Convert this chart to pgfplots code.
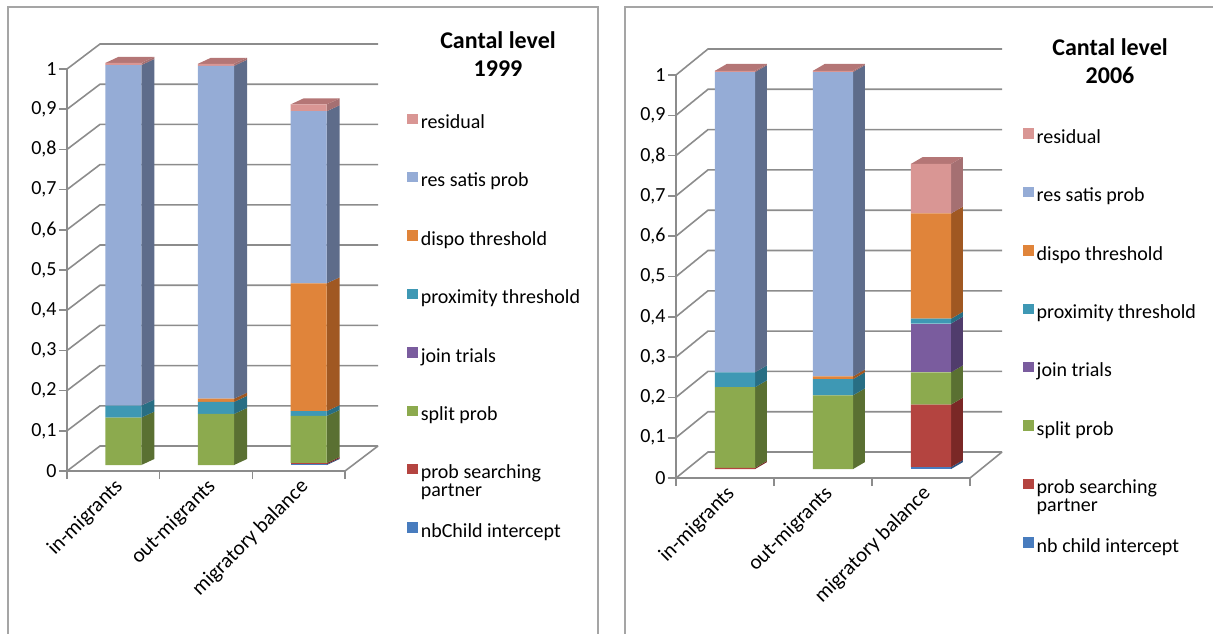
\documentclass[border=0pt]{standalone}
\usepackage{fontspec}
\setmainfont{Carlito}
\usepackage{pgfplots}
\usepackage{pgfplotstable}
\pgfplotsset{compat=1.18}

\definecolor{gridc}{RGB}{140,140,140}
\definecolor{framec}{RGB}{165,165,165}
% front face / side face colours
\definecolor{cResid}{RGB}{217,150,148}  \definecolor{cResidS}{RGB}{165,112,114} \definecolor{cResidT}{RGB}{180,118,118}
\definecolor{cSatis}{RGB}{149,172,214}  \definecolor{cSatisS}{RGB}{94,108,138}
\definecolor{cDispo}{RGB}{224,132,58}   \definecolor{cDispoS}{RGB}{160,88,34}
\definecolor{cProx}{RGB}{62,152,180}    \definecolor{cProxS}{RGB}{40,110,132}
\definecolor{cJoin}{RGB}{122,92,158}    \definecolor{cJoinS}{RGB}{80,60,108}
\definecolor{cSplit}{RGB}{140,170,78}   \definecolor{cSplitS}{RGB}{90,112,50}
\definecolor{cSearch}{RGB}{180,68,64}   \definecolor{cSearchS}{RGB}{122,40,38}
\definecolor{cChild}{RGB}{72,124,190}   \definecolor{cChildS}{RGB}{46,82,130}

% 1999: 0 in-migrants, 1 out-migrants, 2 migratory balance
\pgfplotstableread{
x nbchild psearch split join prox  dispo satis resid
0 0       0       0.118 0    0.030 0     0.847 0.005
1 0       0       0.127 0    0.030 0.008 0.828 0.005
2 0.002   0.003   0.117 0    0.012 0.318 0.428 0.017
}\dataA
% 2006
\pgfplotstableread{
x nbchild psearch split join  prox  dispo satis resid
0 0       0.003   0.200 0     0.037 0     0.745 0.003
1 0       0       0.183 0     0.040 0.007 0.755 0.003
2 0.005   0.155   0.080 0.121 0.012 0.261 0     0.123
}\dataB

% side and top faces of one bar: #1 table, #2 row, #3 half bar width, #4 depth x, #5 depth y
\newcommand\sidefaces[5]{%
  \gdef\cum{0}%
  \foreach \cname/\cclr in {nbchild/cChild,psearch/cSearch,split/cSplit,join/cJoin,
      prox/cProx,dispo/cDispo,satis/cSatis,resid/cResid}{%
    \pgfplotstablegetelem{#2}{\cname}\of#1%
    \ifdim\pgfplotsretval pt>0pt
      \pgfmathsetmacro\ya{\cum}%
      \pgfmathsetmacro\yb{\cum+\pgfplotsretval}%
      \pgfmathsetmacro\xa{#2+#3}%
      \pgfmathsetmacro\xb{#2+#3+#4}%
      \pgfmathsetmacro\yc{\ya+#5}%
      \pgfmathsetmacro\yd{\yb+#5}%
      \edef\facecmd{\noexpand\addplot[fill=\cclr S,draw=none]
        coordinates {(\xa,\ya) (\xb,\yc) (\xb,\yd) (\xa,\yb)};}\facecmd
      \xdef\cum{\yb}%
    \fi}%
  \pgfmathsetmacro\xa{#2-#3}\pgfmathsetmacro\xb{#2+#3}%
  \pgfmathsetmacro\xc{#2-#3+#4}\pgfmathsetmacro\xd{#2+#3+#4}%
  \pgfmathsetmacro\yd{\cum+#5}%
  \edef\facecmd{\noexpand\addplot[fill=cResidT,draw=none]
    coordinates {(\xa,\cum) (\xb,\cum) (\xd,\yd) (\xc,\yd)};}\facecmd
}

\pgfplotsset{
  sqlegend/.style={legend image code/.code={\fill[##1] (0pt,-0.3pt) rectangle (5.2pt,4.9pt);}},
  frontaxis/.style={anchor=south west, scale only axis,
    xmin=-0.5, xmax=2.5, ymin=0, ymax=1, clip=false,
    axis x line*=bottom, axis y line*=left,
    axis line style={gridc, line width=0.8pt},
    tick align=outside, tick style={gridc, line width=0.8pt},
    major tick length=0pt, minor tick length=4pt,
    ytick={0,0.1,...,1}, minor ytick={0,0.1,...,1},
    xtick={0,1,2}, minor xtick={-0.5,0.5,1.5,2.5},
    xticklabels={in-migrants,out-migrants,migratory balance},
    xticklabel style={rotate=45, anchor=north east, inner sep=2pt,
      font=\fontsize{10.5}{12}\selectfont},
    yticklabel style={inner sep=5pt},
    /pgf/number format/use comma, /pgf/number format/assume math mode=true,
    tick label style={font=\fontsize{10}{12}\selectfont, black},
  },
  sideaxis/.style={anchor=south west, scale only axis,
    xmin=-0.5, xmax=2.5, ymin=0, ymax=1, clip=false, hide axis, no marks},
  baraxis/.style={anchor=south west, scale only axis,
    xmin=-0.5, xmax=2.5, ymin=0, ymax=1, clip=false, hide axis,
    ybar stacked, reverse legend, legend cell align=left,
    legend style={draw=none, fill=none, anchor=north west, inner sep=0pt,
      row sep=16.2pt, font=\fontsize{10}{12}\selectfont,
      nodes={text height=7.5pt, text depth=2.5pt, inner sep=1.5pt}},
  },
}

\newcommand\twoline{\smash{\begin{tabular}[t]{@{}l@{}}prob searching\\[-3pt]partner\end{tabular}}}

\begin{document}
\begin{tikzpicture}
\useasboundingbox (0pt,0pt) rectangle (606.5pt,316.5pt);
\draw[framec, line width=0.8pt] (4pt,-5pt) -- (4pt,313pt) -- (299pt,313pt) -- (299pt,-5pt);
\draw[framec, line width=0.8pt] (312.5pt,-5pt) -- (312.5pt,313pt) -- (612pt,313pt);

% ---------- 1999 ----------
\begin{axis}[frontaxis, at={(33.5pt,81pt)}, width=139pt, height=201pt]
\pgfplotsinvokeforeach{0,0.1,0.2,0.3,0.4,0.5,0.6,0.7,0.8,0.9,1}{
  \draw[gridc, line width=0.8pt] (axis cs:-0.5,#1) -- ++(16.5pt,12.5pt)
    -- ([shift={(16.5pt,12.5pt)}]axis cs:2.5,#1);}
\draw[gridc, line width=0.8pt] (axis cs:2.5,0) -- ++(16.5pt,12.5pt);
\end{axis}

\begin{axis}[sideaxis, at={(38.5pt,84pt)}, width=139pt, height=201pt]
\sidefaces{\dataA}{0}{0.195}{0.14}{0.015}
\sidefaces{\dataA}{1}{0.195}{0.14}{0.015}
\sidefaces{\dataA}{2}{0.195}{0.14}{0.015}
\end{axis}

\begin{axis}[baraxis, at={(38.5pt,84pt)}, width=139pt, height=201pt, bar width=0.39,
  legend style={at={(1.187,0.883)}}]
\addplot[fill=cChild, draw=none, sqlegend]  table[x=x, y=nbchild] {\dataA};
\addplot[fill=cSearch, draw=none, sqlegend] table[x=x, y=psearch] {\dataA};
\addplot[fill=cSplit, draw=none, sqlegend]  table[x=x, y=split]   {\dataA};
\addplot[fill=cJoin, draw=none, sqlegend]   table[x=x, y=join]    {\dataA};
\addplot[fill=cProx, draw=none, sqlegend]   table[x=x, y=prox]    {\dataA};
\addplot[fill=cDispo, draw=none, sqlegend]  table[x=x, y=dispo]   {\dataA};
\addplot[fill=cSatis, draw=none, sqlegend]  table[x=x, y=satis]   {\dataA};
\addplot[fill=cResid, draw=none, sqlegend]  table[x=x, y=resid]   {\dataA};
\legend{nbChild intercept, \twoline, split prob, join trials,
  proximity threshold, dispo threshold, res satis prob, residual}
\end{axis}
\node[font=\bfseries\fontsize{12}{14}\selectfont, align=center] at (249pt,289.5pt) {Cantal level\\1999};

% ---------- 2006 ----------
\begin{axis}[frontaxis, at={(338pt,77.5pt)}, width=147pt, height=201.5pt]
\pgfplotsinvokeforeach{0,0.1,0.2,0.3,0.4,0.5,0.6,0.7,0.8,0.9,1}{
  \draw[gridc, line width=0.8pt] (axis cs:-0.5,#1) -- ++(16pt,13pt)
    -- ([shift={(16pt,13pt)}]axis cs:2.5,#1);}
\draw[gridc, line width=0.8pt] (axis cs:2.5,0) -- ++(16pt,13pt);
\end{axis}

\begin{axis}[sideaxis, at={(343pt,82pt)}, width=147pt, height=201.5pt]
\sidefaces{\dataB}{0}{0.205}{0.12}{0.017}
\sidefaces{\dataB}{1}{0.205}{0.12}{0.017}
\sidefaces{\dataB}{2}{0.205}{0.12}{0.017}
\end{axis}

\begin{axis}[baraxis, at={(343pt,82pt)}, width=147pt, height=201.5pt, bar width=0.41,
  legend style={at={(1.146,0.854)}}]
\addplot[fill=cChild, draw=none, sqlegend]  table[x=x, y=nbchild] {\dataB};
\addplot[fill=cSearch, draw=none, sqlegend] table[x=x, y=psearch] {\dataB};
\addplot[fill=cSplit, draw=none, sqlegend]  table[x=x, y=split]   {\dataB};
\addplot[fill=cJoin, draw=none, sqlegend]   table[x=x, y=join]    {\dataB};
\addplot[fill=cProx, draw=none, sqlegend]   table[x=x, y=prox]    {\dataB};
\addplot[fill=cDispo, draw=none, sqlegend]  table[x=x, y=dispo]   {\dataB};
\addplot[fill=cSatis, draw=none, sqlegend]  table[x=x, y=satis]   {\dataB};
\addplot[fill=cResid, draw=none, sqlegend]  table[x=x, y=resid]   {\dataB};
\legend{nb child intercept, \twoline, split prob, join trials,
  proximity threshold, dispo threshold, res satis prob, residual}
\end{axis}
\node[font=\bfseries\fontsize{12}{14}\selectfont, align=center] at (555pt,286pt) {Cantal level\\2006};
\end{tikzpicture}
\end{document}
